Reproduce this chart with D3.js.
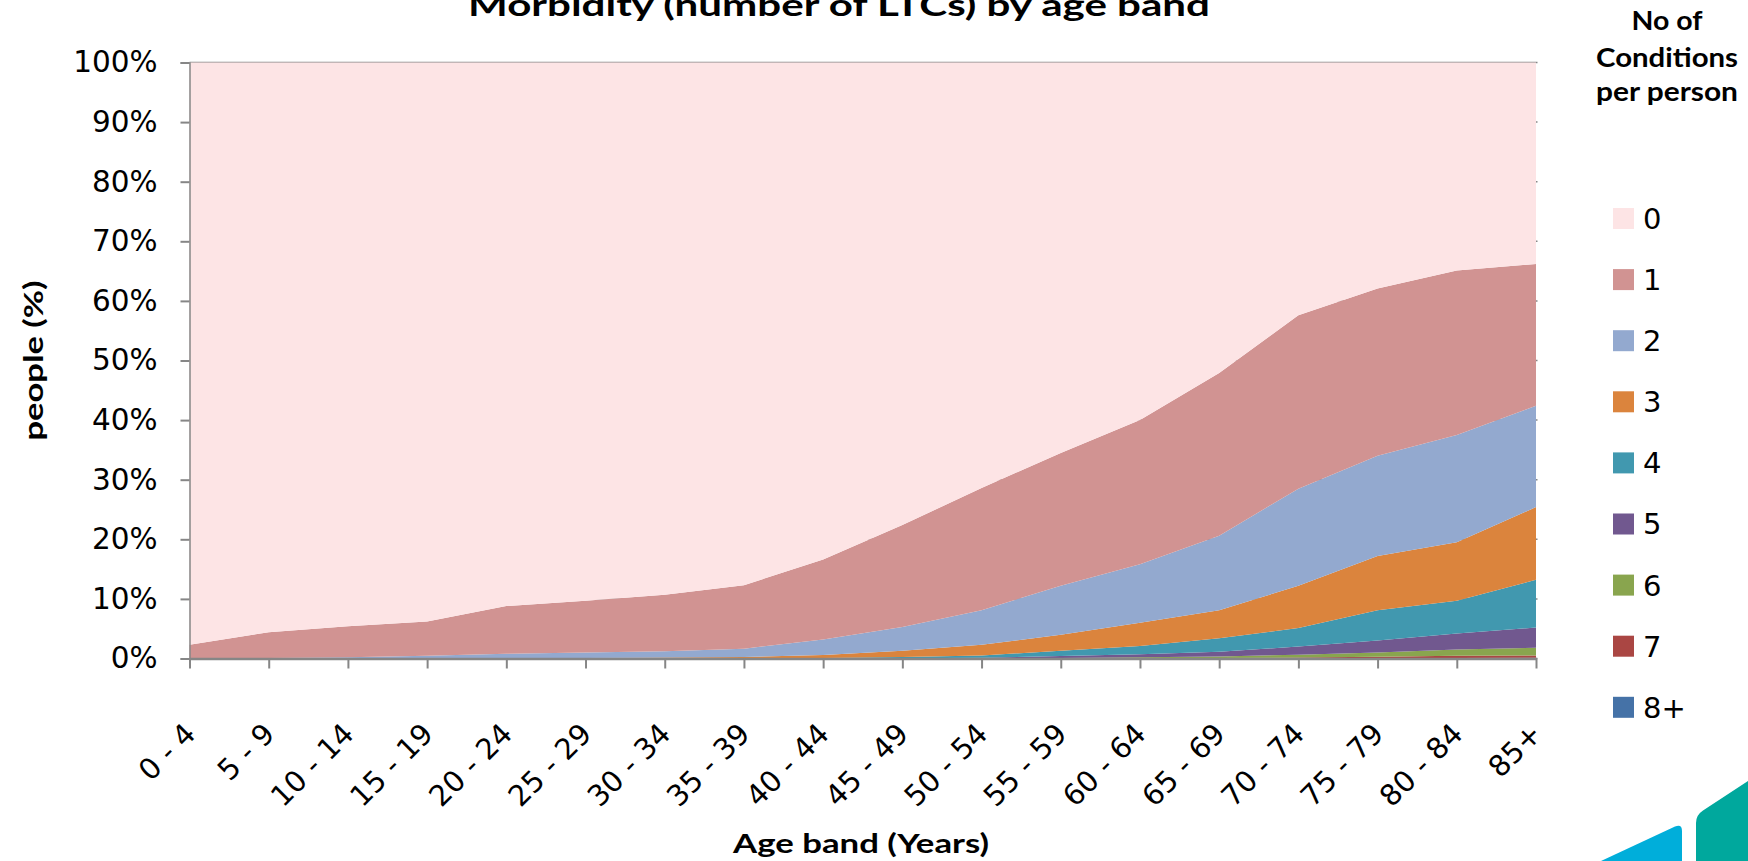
<!DOCTYPE html>
<html>
<head>
<meta charset="utf-8">
<script src="https://cdn.jsdelivr.net/npm/d3@7"></script>
<style>
  html, body { margin: 0; padding: 0; background: #ffffff; overflow: hidden; }
  svg { display: block; }
</style>
</head>
<body>
<svg id="chart" width="1748" height="861"></svg>
<script>
// ---- Data: share of people (%) in each age band by number of long-term conditions ----
const ageBands = ["0 - 4", "5 - 9", "10 - 14", "15 - 19", "20 - 24", "25 - 29", "30 - 34", "35 - 39",
  "40 - 44", "45 - 49", "50 - 54", "55 - 59", "60 - 64", "65 - 69", "70 - 74", "75 - 79", "80 - 84", "85+"];

const share0 = [97.7, 95.6, 94.6, 93.8, 91.2, 90.3, 89.3, 87.7, 83.4, 77.6, 71.4, 65.5, 60.0, 52.1, 42.4, 37.9, 34.9, 33.8];
const share1 = [2.25, 4.3, 5.2, 5.75, 8.0, 8.7, 9.5, 10.65, 13.4, 17.1, 20.5, 22.3, 24.2, 27.3, 29.1, 28.1, 27.6, 23.8];
const share2 = [0.05, 0.1, 0.2, 0.4, 0.7, 0.9, 1.05, 1.4, 2.6, 4.0, 5.8, 8.2, 9.8, 12.5, 16.3, 16.8, 18.0, 17.0];
const share3 = [0, 0, 0, 0.05, 0.08, 0.08, 0.12, 0.2, 0.5, 1.05, 1.8, 2.7, 3.9, 4.7, 7.1, 9.1, 9.8, 12.2];
const share4 = [0, 0, 0, 0, 0.02, 0.02, 0.03, 0.04, 0.07, 0.19, 0.38, 0.9, 1.4, 2.25, 3.1, 5.1, 5.5, 8.0];
const share5 = [0, 0, 0, 0, 0, 0, 0, 0.01, 0.02, 0.04, 0.08, 0.3, 0.5, 0.8, 1.35, 2.0, 2.7, 3.4];
const share6 = [0, 0, 0, 0, 0, 0, 0, 0, 0.01, 0.01, 0.02, 0.07, 0.14, 0.25, 0.49, 0.7, 1.05, 1.3];
const share7 = [0, 0, 0, 0, 0, 0, 0, 0, 0, 0.01, 0.01, 0.02, 0.04, 0.07, 0.11, 0.23, 0.35, 0.38];
const share8plus = [0, 0, 0, 0, 0, 0, 0, 0, 0, 0, 0.01, 0.01, 0.02, 0.03, 0.05, 0.07, 0.1, 0.12];

const conditionKeys = ["0", "1", "2", "3", "4", "5", "6", "7", "8+"];   // legend order, top to bottom
const conditionColors = ["#FDE4E5", "#D19392", "#93A9CF", "#DB843D", "#4198AF", "#71588F", "#89A54E", "#AA4643", "#4572A7"];
const yTickValues = [0, 0.1, 0.2, 0.3, 0.4, 0.5, 0.6, 0.7, 0.8, 0.9, 1.0];

const chartTitle = "Morbidity (number of LTCs) by age band";
const xTitle = "Age band (Years)";
const yTitle = "people (%)";
const legendTitle = ["No of", "Conditions", "per person"];

// ---- Layout ----
const svg = d3.select("#chart");
const plot = { left: 189.5, right: 1536, top: 62.5, bottom: 658.5 };
const axisGrey = "#868686";

const x = d3.scalePoint().domain(ageBands).range([plot.left, plot.right]);
const y = d3.scaleLinear().domain([0, 1]).range([plot.bottom, plot.top]);
const color = d3.scaleOrdinal().domain(conditionKeys).range(conditionColors);

// table of rows for the stack layout
const seriesByKey = { "0": share0, "1": share1, "2": share2, "3": share3, "4": share4,
  "5": share5, "6": share6, "7": share7, "8+": share8plus };
const rows = ageBands.map((band, i) => {
  const row = { band };
  conditionKeys.forEach(k => { row[k] = seriesByKey[k][i]; });
  return row;
});

// horizontal gridlines (mostly hidden behind the filled areas)
svg.append("g")
  .selectAll("line")
  .data(yTickValues)
  .join("line")
  .attr("x1", plot.left)
  .attr("x2", plot.right + 1.5)
  .attr("y1", d => y(d))
  .attr("y2", d => y(d))
  .attr("stroke", axisGrey)
  .attr("stroke-width", 1.5);

// 100% stacked areas: most conditions at the bottom, "0" on top
const stack = d3.stack()
  .keys(conditionKeys.slice().reverse())
  .offset(d3.stackOffsetExpand);
const layers = stack(rows);

const area = d3.area()
  .x(d => x(d.data.band))
  .y0(d => y(d[0]))
  .y1(d => y(d[1]));

svg.append("g")
  .selectAll("path")
  .data(layers)
  .join("path")
  .attr("d", area)
  .attr("fill", d => color(d.key));

// y axis
const yAxis = svg.append("g")
  .attr("transform", `translate(${plot.left},0)`)
  .call(d3.axisLeft(y).tickValues(yTickValues).tickFormat(d3.format(".0%")).tickSize(9).tickPadding(23));
yAxis.select(".domain").attr("stroke", axisGrey).attr("stroke-width", 1.5);
yAxis.selectAll(".tick line").attr("stroke", axisGrey).attr("stroke-width", 2);
yAxis.selectAll(".tick text")
  .attr("fill", "#000")
  .style("font-family", "'DejaVu Sans', Verdana, sans-serif")
  .style("font-size", "29.5px");

// x axis
const xAxis = svg.append("g")
  .attr("transform", `translate(0,${plot.bottom})`)
  .call(d3.axisBottom(x).tickSize(10).tickSizeOuter(0));
xAxis.select(".domain").attr("stroke", axisGrey).attr("stroke-width", 2.5);
xAxis.selectAll(".tick line").attr("stroke", axisGrey).attr("stroke-width", 2);
xAxis.selectAll(".tick text")
  .attr("x", 0)
  .attr("y", 0)
  .attr("dy", "0.35em")
  .attr("text-anchor", "end")
  .attr("transform", "translate(0,70) rotate(-45)")
  .attr("fill", "#000")
  .style("font-family", "'DejaVu Sans', Verdana, sans-serif")
  .style("font-size", "29px");

// titles
const boldFont = "Lato, 'Open Sans', sans-serif";
svg.append("text")
  .attr("x", 839)
  .attr("y", 16)
  .attr("text-anchor", "middle")
  .attr("textLength", 742)
  .attr("lengthAdjust", "spacingAndGlyphs")
  .style("font-family", boldFont)
  .style("font-weight", 700)
  .style("font-size", "31px")
  .text(chartTitle);

svg.append("text")
  .attr("x", 861)
  .attr("y", 853)
  .attr("text-anchor", "middle")
  .attr("textLength", 256)
  .attr("lengthAdjust", "spacingAndGlyphs")
  .style("font-family", boldFont)
  .style("font-weight", 700)
  .style("font-size", "27px")
  .text(xTitle);

svg.append("text")
  .attr("transform", `translate(43,${(plot.top + plot.bottom) / 2}) rotate(-90)`)
  .attr("text-anchor", "middle")
  .attr("textLength", 160)
  .attr("lengthAdjust", "spacingAndGlyphs")
  .style("font-family", boldFont)
  .style("font-weight", 700)
  .style("font-size", "27px")
  .text(yTitle);

// legend
const legendTitleWidths = [71, 142, 142];
const legendTitleBaselines = [30, 67, 101];
svg.append("g")
  .selectAll("text")
  .data(legendTitle)
  .join("text")
  .attr("x", 1667)
  .attr("y", (d, i) => legendTitleBaselines[i])
  .attr("text-anchor", "middle")
  .attr("textLength", (d, i) => legendTitleWidths[i])
  .attr("lengthAdjust", "spacingAndGlyphs")
  .style("font-family", boldFont)
  .style("font-weight", 700)
  .style("font-size", "27px")
  .text(d => d);

const legend = svg.append("g")
  .selectAll("g")
  .data(conditionKeys)
  .join("g")
  .attr("transform", (d, i) => `translate(1613,${218.5 + i * 61.1})`);
legend.append("rect")
  .attr("x", 0)
  .attr("y", -10.5)
  .attr("width", 21)
  .attr("height", 21)
  .attr("fill", d => color(d));
legend.append("text")
  .attr("x", 30)
  .attr("y", 0)
  .attr("dy", "0.36em")
  .style("font-family", "'DejaVu Sans', Verdana, sans-serif")
  .style("font-size", "29px")
  .text(d => d);

// corner logo shapes
svg.append("path")
  .attr("d", "M1601,861 L1675,826.5 Q1682,823.5 1682,831 L1682,861 Z")
  .attr("fill", "#00AEDA");
svg.append("path")
  .attr("d", "M1696,861 L1696,823 Q1696,815 1703,810.5 L1748,781 L1748,861 Z")
  .attr("fill", "#00A89D");
</script>
</body>
</html>
